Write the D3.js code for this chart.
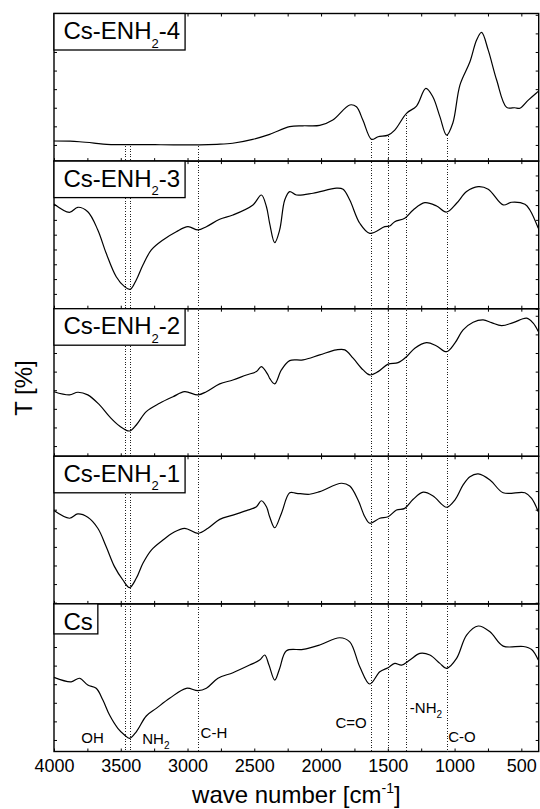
<!DOCTYPE html>
<html>
<head>
<meta charset="utf-8">
<script src="https://cdn.jsdelivr.net/npm/d3@7"></script>
<style>
  html, body { margin: 0; padding: 0; background: #fff; }
  svg { display: block; font-family: Arial, "Liberation Sans", Helvetica, sans-serif; }
</style>
</head>
<body>
<svg id="chart" width="540" height="809"></svg>
<script>
// FTIR spectra, [wave number (cm^-1), transmittance (a.u.)], panels top to bottom
const spectrumENH2_4 = [
  [4000,12.1],[3880,12.0],[3809,11.7],[3700,11.0],[3606,10.3],[3450,10.2],[3200,10.1],[2909,10.0],
  [2780,10.3],[2662,10.9],[2512,13.0],[2385,15.7],[2235,19.8],[2137,20.3],[2010,20.5],[1912,23.4],
  [1785,31.5],[1735,30.5],[1687,23.4],[1622,13.0],[1573,14.4],[1498,15.3],[1448,18.0],[1360,27.0],
  [1285,30.9],[1215,40.4],[1163,35.9],[1110,25.2],[1060,15.3],[1013,21.8],[960,42.2],[885,54.7],
  [835,66.4],[798,70.5],[748,61.0],[685,44.9],[610,30.2],[548,30.0],[511,29.7],[448,34.1],[385,38.1],[370,39.0]
];
const spectrumENH2_3 = [
  [4000,70.7],[3884,65.1],[3822,68.5],[3747,65.5],[3672,53.2],[3609,37.4],[3534,21.6],[3472,14.9],
  [3429,13.1],[3384,19.4],[3334,29.5],[3271,39.7],[3184,46.4],[3084,52.0],[2997,55.4],[2922,53.2],
  [2859,55.4],[2759,60.4],[2660,63.3],[2510,70.1],[2447,76.8],[2409,68.9],[2385,57.7],[2347,44.6],
  [2310,53.2],[2272,73.4],[2235,79.1],[2184,76.8],[2060,78.0],[1885,81.4],[1835,80.7],[1785,73.4],
  [1710,57.7],[1635,50.9],[1523,55.4],[1485,55.9],[1448,58.8],[1373,61.1],[1310,66.7],[1223,71.6],
  [1135,69.4],[1060,65.3],[985,71.2],[910,79.1],[823,82.4],[748,80.7],[636,70.1],[573,71.9],
  [473,70.5],[436,66.7],[373,54.3]
];
const spectrumENH2_2 = [
  [4000,39.2],[3884,37.5],[3822,38.9],[3747,37.5],[3659,32.1],[3584,25.8],[3509,20.8],[3434,18.1],
  [3384,21.3],[3309,28.5],[3209,33.0],[3109,36.5],[3022,39.2],[2922,37.5],[2859,39.2],[2759,43.4],
  [2660,45.5],[2559,48.2],[2484,50.0],[2447,52.7],[2397,48.2],[2385,46.4],[2347,43.4],[2297,50.9],
  [2235,55.9],[2135,56.3],[2010,59.0],[1885,61.7],[1822,61.7],[1760,57.2],[1685,50.9],[1635,48.2],
  [1573,50.0],[1498,54.0],[1423,54.8],[1360,58.0],[1298,62.6],[1210,65.6],[1135,63.8],[1060,60.7],
  [998,65.3],[936,72.4],[861,76.5],[786,77.8],[723,76.3],[648,74.7],[561,76.3],[460,78.7],
  [411,76.0],[373,71.5]
];
const spectrumENH2_1 = [
  [4000,59.5],[3884,55.4],[3822,57.7],[3747,55.9],[3672,50.0],[3609,40.1],[3547,29.4],[3484,22.2],
  [3434,18.1],[3384,23.1],[3334,31.2],[3271,38.3],[3184,43.7],[3109,47.6],[3022,50.0],[2922,47.3],
  [2847,50.0],[2759,54.8],[2660,57.1],[2559,59.5],[2484,61.6],[2447,64.8],[2409,61.6],[2385,56.2],
  [2347,50.3],[2297,58.0],[2235,69.1],[2184,68.8],[2085,68.3],[2010,69.7],[1847,74.2],[1785,72.7],
  [1723,65.2],[1672,56.2],[1635,52.7],[1560,55.4],[1498,56.2],[1435,59.8],[1373,60.7],[1310,65.6],
  [1235,69.4],[1161,67.4],[1060,61.3],[998,65.2],[936,73.3],[885,77.7],[823,79.2],[735,76.0],
  [636,69.1],[473,69.1],[423,66.1],[373,58.9]
];
const spectrumCs = [
  [4000,43.7],[3871,41.3],[3809,43.2],[3747,39.6],[3684,37.8],[3634,31.5],[3584,23.4],[3522,16.3],
  [3472,12.7],[3434,10.9],[3384,14.4],[3309,22.9],[3234,27.0],[3134,32.4],[3009,37.8],[2922,36.5],
  [2859,37.8],[2772,43.2],[2660,46.2],[2535,50.3],[2460,53.0],[2422,55.7],[2390,50.3],[2347,42.2],
  [2310,48.5],[2259,58.0],[2135,58.7],[2010,61.1],[1860,65.0],[1785,62.8],[1710,49.4],[1635,40.1],
  [1560,46.7],[1498,48.9],[1448,51.2],[1397,50.3],[1335,53.0],[1260,56.6],[1185,55.7],[1110,51.2],
  [1060,48.5],[985,53.9],[910,66.4],[823,71.3],[735,68.2],[636,60.5],[486,60.3],[423,58.7],[373,53.0]
];

// sample names: [text, subscript, text]
const sampleLabels = [
  ["Cs-ENH", "2", "-4"],
  ["Cs-ENH", "2", "-3"],
  ["Cs-ENH", "2", "-2"],
  ["Cs-ENH", "2", "-1"],
  ["Cs", "", ""]
];
const spectra = [spectrumENH2_4, spectrumENH2_3, spectrumENH2_2, spectrumENH2_1, spectrumCs];
// transmittance range shown in each panel
const tRanges = [[1.3, 80.7], [0, 99.7], [4.5, 83.8], [9.35, 88.7], [3.8, 83.2]];

const waveDomain = [4000, 370];
const waveTicks = [4000, 3750, 3500, 3250, 3000, 2750, 2500, 2250, 2000, 1750, 1500, 1250, 1000, 750, 500];
const waveTickLabels = [4000, 3500, 3000, 2500, 2000, 1500, 1000, 500];

// characteristic bands (cm^-1)
const bandLines = [3470, 3430, 2925, 1628, 1495, 1362, 1055];
// band assignments, anchored at [wave number, transmittance] in the Cs panel
const bandLabels = [
  { text: "OH", sub: "", w: 3796, t: 8.5 },
  { text: "NH", sub: "2", w: 3339, t: 7.8 },
  { text: "C-H", sub: "", w: 2902, t: 11.2 },
  { text: "C=O", sub: "", w: 1892, t: 16.3 },
  { text: "-NH", sub: "2", w: 1335, t: 24.3 },
  { text: "C-O", sub: "", w: 1048, t: 9.1 }
];

const plot = { left: 54, right: 538.7, top: 13.5, bottom: 751.5 };
const nPanels = spectra.length;
const panelH = (plot.bottom - plot.top) / nPanels;

const svg = d3.select("#chart");
const x = d3.scaleLinear().domain(waveDomain).range([plot.left, plot.right]);

const yScales = tRanges.map((r, i) => {
  const top = plot.top + i * panelH;
  return d3.scaleLinear().domain(r).range([top + panelH, top]);
});

function valueAt(series, w) {
  for (let k = 0; k < series.length - 1; k++) {
    const [w0, t0] = series[k], [w1, t1] = series[k + 1];
    if (w <= w0 && w >= w1) return t0 + (t1 - t0) * (w0 - w) / (w0 - w1);
  }
  return series[series.length - 1][1];
}

const gAxes = svg.append("g");
const gBands = svg.append("g");
const gCurves = svg.append("g");
const gLabels = svg.append("g");

// axes for every panel, ticks pointing inward
yScales.forEach((y, i) => {
  const top = plot.top + i * panelH, bot = top + panelH;
  const [lo, hi] = tRanges[i];
  const yt = d3.range(Math.ceil(lo / 10) * 10, hi, 10);

  gAxes.append("g").attr("transform", `translate(0,${top})`)
    .call(d3.axisBottom(x).tickValues(waveTicks).tickSize(3).tickFormat(""));
  const isLast = i === nPanels - 1;
  const bottomAxis = d3.axisBottom(x).tickValues(waveTicks).tickSizeInner(-3).tickSizeOuter(0).tickPadding(7.7)
    .tickFormat(d => (isLast && waveTickLabels.includes(d)) ? d : "");
  gAxes.append("g").attr("transform", `translate(0,${bot})`).call(bottomAxis);
  gAxes.append("g").attr("transform", `translate(${plot.left},0)`)
    .call(d3.axisRight(y).tickValues(yt).tickSize(3).tickFormat(""));
  gAxes.append("g").attr("transform", `translate(${plot.right},0)`)
    .call(d3.axisLeft(y).tickValues(yt).tickSize(3).tickFormat(""));

  gAxes.append("rect")
    .attr("x", plot.left).attr("y", top)
    .attr("width", plot.right - plot.left).attr("height", panelH)
    .attr("fill", "none").attr("stroke", "#000").attr("stroke-width", 1.4);
});
gAxes.selectAll(".domain").remove();
gAxes.selectAll(".tick line").attr("stroke", "#000").attr("stroke-width", 1);
gAxes.selectAll(".tick text").attr("font-size", 18).attr("fill", "#000")
  .attr("font-family", 'Arial, "Liberation Sans", Helvetica, sans-serif');

// dotted band markers, from the top spectrum down to the wave-number axis
gBands.selectAll("line").data(bandLines).join("line")
  .attr("x1", d => Math.round(x(d)) + 0.5).attr("x2", d => Math.round(x(d)) + 0.5)
  .attr("y1", d => yScales[0](valueAt(spectra[0], d)) + 1.5)
  .attr("y2", plot.bottom)
  .attr("shape-rendering", "crispEdges")
  .attr("stroke", "#222").attr("stroke-width", 1).attr("stroke-dasharray", "1,1.6");

// spectra
const line = d3.line().curve(d3.curveCatmullRom.alpha(0.5));
spectra.forEach((s, i) => {
  const y = yScales[i];
  gCurves.append("path")
    .attr("d", line.x(d => x(d[0])).y(d => y(d[1]))(s))
    .attr("fill", "none").attr("stroke", "#000").attr("stroke-width", 1.2);
});

// sample name boxes in the top-left corner of each panel
sampleLabels.forEach((lab, i) => {
  const top = plot.top + i * panelH;
  const g = gLabels.append("g");
  const rect = g.append("rect");
  const t = g.append("text").attr("x", plot.left + 9.5).attr("y", top + 25.6)
    .attr("font-size", 24).attr("fill", "#000");
  t.append("tspan").text(lab[0]);
  if (lab[1]) {
    t.append("tspan").attr("font-size", 13).attr("dy", 8.5).text(lab[1]);
    t.append("tspan").attr("dy", -8.5).text(lab[2]);
  }
  const bb = t.node().getBBox();
  const boxBottom = lab[1] ? top + 36.5 : top + 30;
  rect.attr("x", plot.left).attr("y", top)
    .attr("width", bb.x + bb.width + 5 - plot.left).attr("height", boxBottom - top)
    .attr("fill", "#fff").attr("stroke", "#000").attr("stroke-width", 1.3);
});

// band assignments in the bottom panel
const yCs = yScales[nPanels - 1];
bandLabels.forEach(b => {
  const t = gLabels.append("text").attr("x", x(b.w)).attr("y", yCs(b.t))
    .attr("font-size", 15).attr("fill", "#000");
  t.append("tspan").text(b.text);
  if (b.sub) t.append("tspan").attr("font-size", 10).attr("dy", 4.5).text(b.sub);
});

// axis titles
const xt = svg.append("text")
  .attr("x", (plot.left + plot.right) / 2).attr("y", 803)
  .attr("text-anchor", "middle").attr("font-size", 24).attr("fill", "#000");
xt.append("tspan").text("wave number [cm");
xt.append("tspan").attr("font-size", 14).attr("dy", -10).text("-1");
xt.append("tspan").attr("dy", 10).text("]");

svg.append("text")
  .attr("transform", "translate(32,388) rotate(-90)")
  .attr("text-anchor", "middle").attr("font-size", 24).attr("fill", "#000")
  .text("T [%]");
</script>
</body>
</html>
